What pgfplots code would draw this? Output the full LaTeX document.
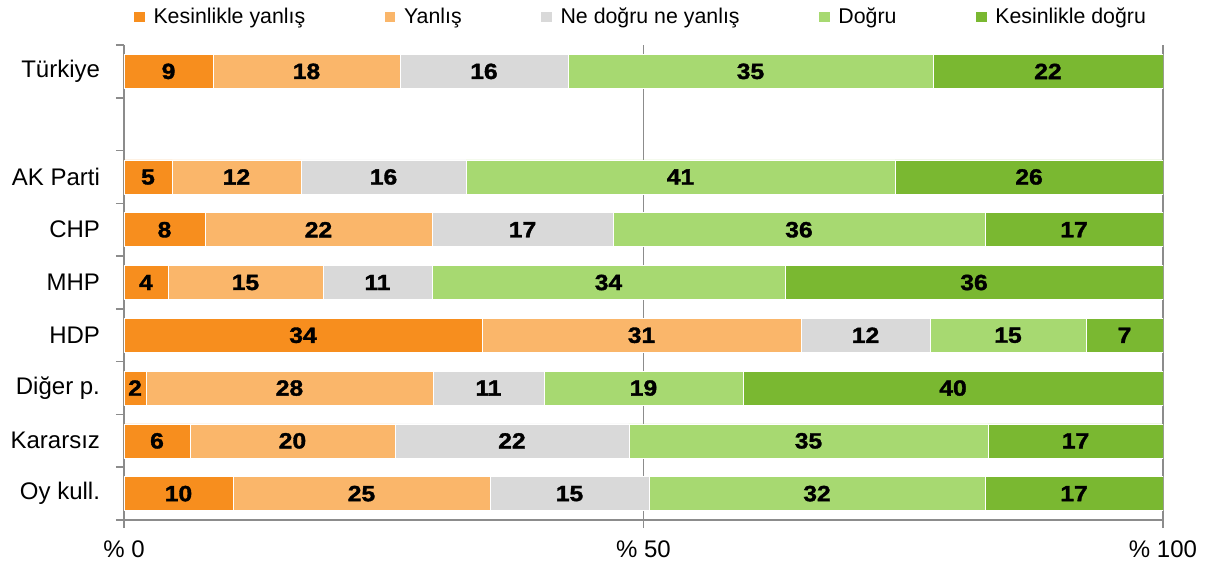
\documentclass[border=0pt]{standalone}
\usepackage{pgfplots}
\pgfplotsset{compat=1.18}
\usepackage{pgfplotstable}
\usepackage{fontspec}
\setmainfont{Liberation Sans}
\newfontfamily\numfont[FakeBold=1.6, FakeStretch=1.12]{Liberation Sans Bold}
\definecolor{cA}{HTML}{F78E1E}
\definecolor{cB}{HTML}{FAB66A}
\definecolor{cC}{HTML}{D9D9D9}
\definecolor{cD}{HTML}{A7D971}
\definecolor{cE}{HTML}{7AB831}
\definecolor{axgray}{HTML}{8C8C8C}

\pgfplotstableread{
y v lab
0 8.57 9
2 4.62 5
3 7.80 8
4 4.23 4
5 34.46 34
6 2.12 2
7 6.35 6
8 10.49 10
}\tA
\pgfplotstableread{
y v lab
0 17.99 18
2 12.42 12
3 21.84 22
4 14.92 15
5 30.70 31
6 27.62 28
7 19.73 20
8 24.74 25
}\tB
\pgfplotstableread{
y v lab
0 16.17 16
2 15.88 16
3 17.42 17
4 10.49 11
5 12.42 12
6 10.68 11
7 22.52 22
8 15.30 15
}\tC
\pgfplotstableread{
y v lab
0 35.13 35
2 41.29 41
3 35.81 36
4 33.98 34
5 15.01 15
6 19.16 19
7 34.56 35
8 32.34 32
}\tD
\pgfplotstableread{
y v lab
0 22.14 22
2 25.79 26
3 17.13 17
4 36.38 36
5 7.41 7
6 40.42 40
7 16.84 17
8 17.13 17
}\tE

\pgfplotsset{sq/.style={legend image code/.code={\fill[##1] (0pt,-4.3pt) rectangle (8.6pt,4.3pt);}}}

\begin{document}
\begin{tikzpicture}
\path (-93pt,-35.25pt) rectangle (819.75pt,390pt);
\begin{axis}[
  name=main, at={(0,0)}, anchor=south west,
  scale only axis, width=779.25pt, height=356.25pt,
  xbar stacked, bar width=25.5pt,
  xmin=0, xmax=100, ymin=-0.5, ymax=8.5, y dir=reverse,
  axis x line*=bottom, axis y line*=left,
  axis line style={draw=axgray, line width=1.1pt},
  xtick={0,50,100}, xticklabels={\% 0,\% 50,\% 100},
  ytick={0,2,3,4,5,6,7,8},
  yticklabels={Türkiye,AK Parti,CHP,MHP,HDP,Diğer p.,Kararsız,Oy kull.},
  minor ytick={-0.5,0.5,...,8.5},
  tick align=outside, major tick length=6pt, minor tick length=6pt,
  tick style={draw=axgray, line width=1.1pt},
  every major y tick/.append style={draw opacity=0},
  xmajorgrids, grid style={draw=axgray, line width=1.1pt},
  ticklabel style={font=\fontsize{18}{21}\selectfont},
  xticklabel style={yshift=-6pt},
  yticklabel style={xshift=-8.5pt},
  point meta=explicit symbolic,
  nodes near coords,
  every node near coord/.append style={font=\fontsize{16.5}{19}\numfont, text=black, anchor=center},
  legend columns=5,
  legend style={at={(0.4976,1)}, anchor=center, yshift=21pt, draw=none, fill=none,
    font=\fontsize{16}{19}\selectfont,
    /tikz/every odd column/.append style={column sep=4pt},
    /tikz/every even column/.append style={column sep=57pt},
    inner sep=0pt},
]
\addplot+[fill=cA, draw=white, line width=0.5pt, sq] table[x=v, y=y, meta=lab] {\tA};
\addplot+[fill=cB, draw=white, line width=0.5pt, sq] table[x=v, y=y, meta=lab] {\tB};
\addplot+[fill=cC, draw=white, line width=0.5pt, sq] table[x=v, y=y, meta=lab] {\tC};
\addplot+[fill=cD, draw=white, line width=0.5pt, sq] table[x=v, y=y, meta=lab] {\tD};
\addplot+[fill=cE, draw=white, line width=0.5pt, sq] table[x=v, y=y, meta=lab] {\tE};
\legend{Kesinlikle yanlış, Yanlış, Ne doğru ne yanlış, Doğru, Kesinlikle doğru}
\end{axis}
\end{tikzpicture}
\end{document}
